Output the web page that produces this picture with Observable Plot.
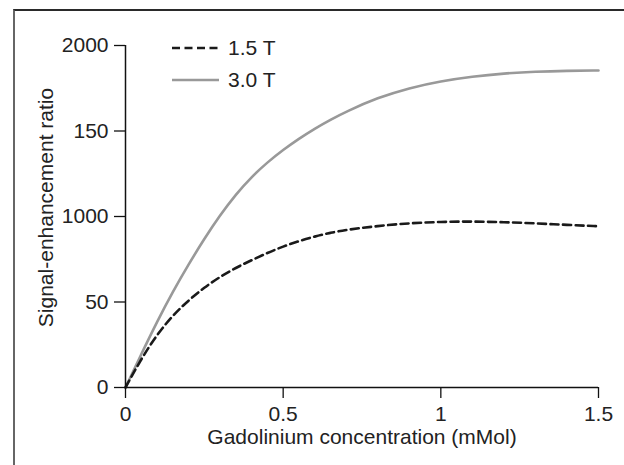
<!DOCTYPE html>
<html>
<head>
<meta charset="utf-8">
<script src="https://cdn.jsdelivr.net/npm/d3@7"></script>
<script src="https://cdn.jsdelivr.net/npm/@observablehq/plot@0.6"></script>
<style>
  html, body { margin: 0; padding: 0; background: #fff; }
  #wrap { position: relative; width: 624px; height: 465px; overflow: hidden; font-family: "Liberation Sans", Arial, sans-serif; }
  #frame { position: absolute; left: 13px; top: 9px; right: -10px; bottom: -10px; border-top: 2px solid #2a2a2a; border-left: 2px solid #666; }
  #chart { position: absolute; left: 0; top: 0; }
  #legend { position: absolute; left: 172px; top: 32px; font-size: 21px; color: #222; }
  #legend .row { display: flex; align-items: center; height: 32px; }
  #legend svg { margin-right: 9px; }
</style>
</head>
<body>
<div id="wrap">
  <div id="frame"></div>
  <div id="chart"></div>
  <div id="legend"></div>
</div>
<script>
const conc = [0, 0.05, 0.1, 0.15, 0.2, 0.25, 0.3, 0.35, 0.4, 0.45, 0.5, 0.55, 0.6, 0.65, 0.7, 0.8, 0.9, 1.0, 1.1, 1.2, 1.3, 1.4, 1.5];
const ser15T = [0, 168, 310, 422, 510, 585, 648, 700, 745, 787, 825, 857, 883, 905, 922, 945, 961, 969, 971, 967, 960, 951, 943];
const ser30T = [0, 195, 385, 560, 720, 870, 1008, 1130, 1232, 1317, 1390, 1455, 1514, 1566, 1614, 1695, 1752, 1792, 1819, 1837, 1847, 1852, 1854];
const seriesNames = ["1.5 T", "3.0 T"];
const yTicks = [0, 500, 1000, 1500, 2000];
const yTickLabels = ["0", "50", "1000", "150", "2000"];
const xTicks = [0, 0.5, 1, 1.5];
const xTickLabels = ["0", "0.5", "1", "1.5"];

const d15 = conc.map((c, i) => ({x: c, y: ser15T[i]}));
const d30 = conc.map((c, i) => ({x: c, y: ser30T[i]}));

const FS = 21;
const chart = Plot.plot({
  width: 624,
  height: 465,
  marginLeft: 125,
  marginRight: 26,
  marginTop: 45,
  marginBottom: 78,
  style: { fontFamily: "Liberation Sans, Arial, sans-serif", fontSize: FS + "px", color: "#222", background: "transparent" },
  x: { domain: [0, 1.5], label: null },
  y: { domain: [0, 2000], label: null },
  marks: [
    Plot.line(d30, { x: "x", y: "y", stroke: "#999", strokeWidth: 2.6, curve: "basis" }),
    Plot.line(d15, { x: "x", y: "y", stroke: "#1a1a1a", strokeWidth: 2.6, strokeDasharray: "8,4.5", curve: "basis" }),
    Plot.ruleY([0], { stroke: "#111", strokeWidth: 1.5 }),
    Plot.ruleX([0], { stroke: "#111", strokeWidth: 1.5 }),
    Plot.axisY(yTicks, { tickSize: 11, tickPadding: 6, tickFormat: (d) => yTickLabels[yTicks.indexOf(d)], stroke: "#111", strokeWidth: 1.3, label: null, fontSize: FS, fill: "#222" }),
    Plot.axisX(xTicks, { tickSize: 11, tickPadding: 8, tickFormat: (d) => xTickLabels[xTicks.indexOf(d)], stroke: "#111", strokeWidth: 1.3, label: null, fontSize: FS, fill: "#222" }),
    Plot.text(["Gadolinium concentration (mMol)"], { frameAnchor: "bottom", lineAnchor: "middle", textAnchor: "middle", dy: 50, fontSize: FS, fill: "#222" }),
    Plot.text(["Signal-enhancement ratio"], { frameAnchor: "left", textAnchor: "middle", lineAnchor: "middle", dx: -79, dy: -9, rotate: -90, fontSize: FS, fill: "#222" })
  ]
});
document.getElementById("chart").appendChild(chart);

const legend = document.getElementById("legend");
const styles = [
  { stroke: "#1a1a1a", dash: "8,4.5" },
  { stroke: "#999", dash: null }
];
seriesNames.forEach((name, i) => {
  const row = document.createElement("div");
  row.className = "row";
  const ns = "http://www.w3.org/2000/svg";
  const s = document.createElementNS(ns, "svg");
  s.setAttribute("width", 47); s.setAttribute("height", 10);
  const l = document.createElementNS(ns, "line");
  l.setAttribute("x1", 0); l.setAttribute("x2", 47); l.setAttribute("y1", 5); l.setAttribute("y2", 5);
  l.setAttribute("stroke", styles[i].stroke); l.setAttribute("stroke-width", 2.6);
  if (styles[i].dash) l.setAttribute("stroke-dasharray", styles[i].dash);
  s.appendChild(l);
  row.appendChild(s);
  const t = document.createElement("span");
  t.textContent = name;
  row.appendChild(t);
  legend.appendChild(row);
});
</script>
</body>
</html>
